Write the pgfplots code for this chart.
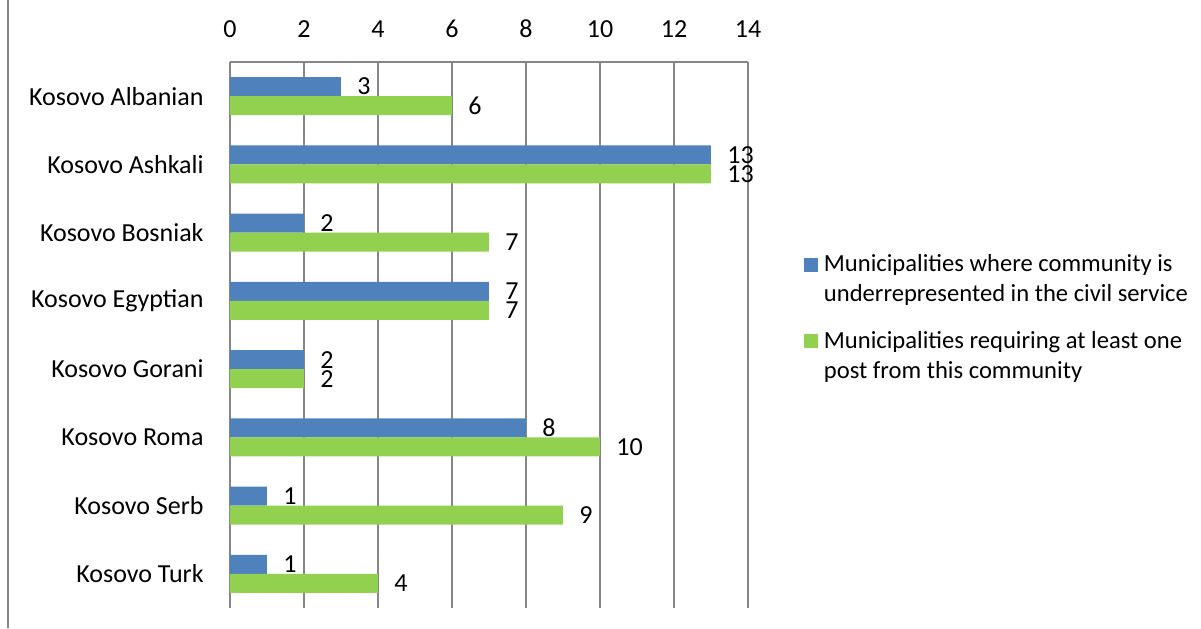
\documentclass[border=0pt]{standalone}
\usepackage{fontspec}
\setmainfont{Carlito}
\usepackage{pgfplots}
\pgfplotsset{compat=1.18}
\definecolor{barblue}{HTML}{4F81BD}
\definecolor{bargreen}{HTML}{92D050}
\definecolor{gridgray}{HTML}{868686}
\begin{document}
\begin{tikzpicture}
\path[use as bounding box] (-115pt,-10pt) rectangle (485.5pt,304pt);
\draw[gridgray, line width=1pt] (-111pt,-10pt) -- (-111pt,304pt);
\begin{axis}[
  at={(0pt,0pt)}, anchor=south west,
  width=259pt, height=273pt, scale only axis,
  xbar, bar width=0.28,
  xmin=0, xmax=14, xtick={0,2,...,14},
  ymin=-0.5, ymax=7.5, y dir=reverse,
  ytick={0,...,7},
  yticklabels={Kosovo Albanian,Kosovo Ashkali,Kosovo Bosniak,Kosovo Egyptian,Kosovo Gorani,Kosovo Roma,Kosovo Serb,Kosovo Turk},
  axis x line*=top, axis y line*=left,
  axis line style={gridgray, line width=0.75pt, -},
  xmajorgrids, major grid style={gridgray, line width=0.75pt},
  major tick length=0pt,
  tick label style={font=\fontsize{13}{15}\selectfont, text=black},
  /pgf/number format/assume math mode=true,
  xticklabel style={anchor=south, inner sep=0pt, yshift=12pt},
  yticklabel style={anchor=east, inner sep=0pt, xshift=-13pt},
  nodes near coords,
  every node near coord/.append style={font=\fontsize{13}{15}\selectfont, anchor=west, inner sep=0pt, xshift=8pt, text=black},
  legend cell align=left,
  legend style={draw=none, fill=none, inner sep=0pt, outer sep=0pt,
    at={(1.108,0.6467)}, anchor=north west,
    font=\fontsize{12.3}{15}\selectfont, row sep=13pt,
    nodes={align=left, inner sep=0pt, outer sep=0pt},
    cells={anchor=base west}},
]
\addplot[fill=barblue, draw=none, bar shift=-0.14,
  legend image code/.code={\path[fill=none, draw=none] (0pt,0pt) rectangle (10pt,22pt); \fill[barblue] (0pt,15pt) rectangle (7pt,22pt);}]
  coordinates {(3,0) (13,1) (2,2) (7,3) (2,4) (8,5) (1,6) (1,7)};
\addlegendentry{Municipalities where community is\\underrepresented in the civil service}
\addplot[fill=bargreen, draw=none, bar shift=0.14,
  legend image code/.code={\path[fill=none, draw=none] (0pt,0pt) rectangle (10pt,22pt); \fill[bargreen] (0pt,15pt) rectangle (7pt,22pt);}]
  coordinates {(6,0) (13,1) (7,2) (7,3) (2,4) (10,5) (9,6) (4,7)};
\addlegendentry{Municipalities requiring at least one\\post from this community}
\end{axis}
\end{tikzpicture}
\end{document}
